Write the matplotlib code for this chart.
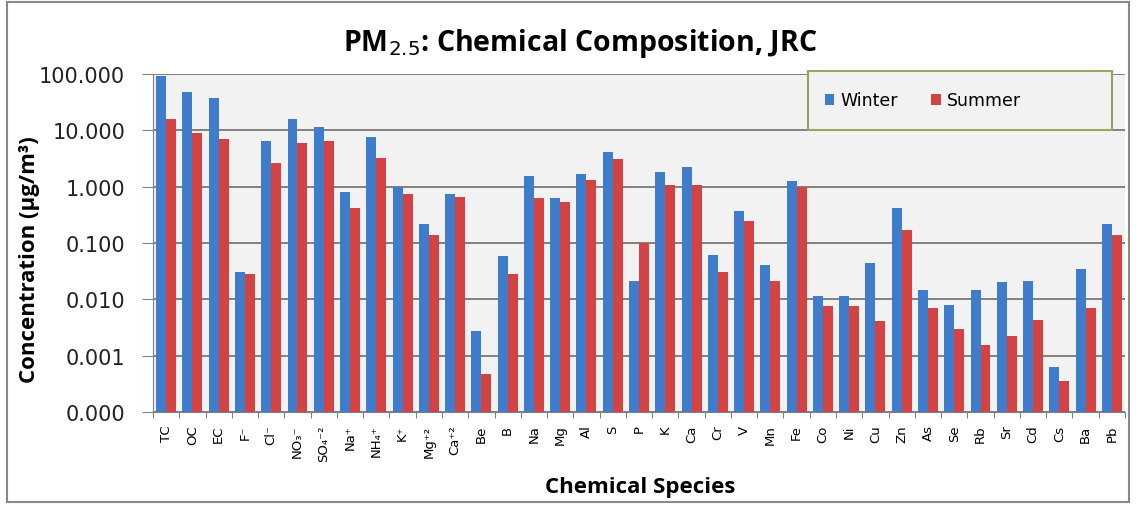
import matplotlib
matplotlib.use("Agg")
import matplotlib.pyplot as plt
import numpy as np
from matplotlib.patches import Rectangle
from matplotlib.ticker import FixedLocator, FuncFormatter, NullFormatter

species = ["TC", "OC", "EC", "F⁻", "Cl⁻", "NO₃⁻", "SO₄⁻²", "Na⁺", "NH₄⁺", "K⁺",
           "Mg⁺²", "Ca⁺²", "Be", "B", "Na", "Mg", "Al", "S", "P", "K", "Ca",
           "Cr", "V", "Mn", "Fe", "Co", "Ni", "Cu", "Zn", "As", "Se", "Rb",
           "Sr", "Cd", "Cs", "Ba", "Pb"]
winter = [92, 48, 38, 0.031, 6.5, 16, 11.6, 0.81, 7.5, 1.0,
          0.22, 0.74, 0.0027, 0.058, 1.56, 0.62, 1.67, 4.1, 0.021, 1.8, 2.2,
          0.062, 0.37, 0.041, 1.25, 0.0115, 0.0115, 0.044, 0.42, 0.0146, 0.0079, 0.0146,
          0.0204, 0.0215, 0.00063, 0.035, 0.22]
summer = [16, 9.0, 7.0, 0.028, 2.6, 5.9, 6.5, 0.42, 3.26, 0.73,
          0.14, 0.65, 0.00047, 0.028, 0.64, 0.54, 1.31, 3.1, 0.10, 1.08, 1.08,
          0.030, 0.25, 0.021, 1.0, 0.0075, 0.0075, 0.0041, 0.17, 0.0070, 0.0030, 0.00155,
          0.0022, 0.0043, 0.00036, 0.0070, 0.14]
yticks = [0.0001, 0.001, 0.01, 0.1, 1, 10, 100]
series_names = ["Winter", "Summer"]

W, H = 1136, 506
fig = plt.figure(figsize=(W / 100, H / 100), dpi=100)
fig.patch.set_facecolor("white")
fig.patches.append(Rectangle((7 / W, 3 / H), 1 - 14 / W, 1 - 6 / H, transform=fig.transFigure,
                             fill=False, edgecolor="#8a8a8a", linewidth=1.5))

ax_l, ax_r, ax_t, ax_b = 153, 1125, 75, 413
ax = fig.add_axes([ax_l / W, 1 - ax_b / H, (ax_r - ax_l) / W, (ax_b - ax_t) / H])
ax.set_facecolor("#f2f2f2")
ax.set_yscale("log")
ax.set_ylim(1e-4, 100)

x = np.arange(len(species))
bw = 0.38
blue = "#3f7dcc"
red = "#d34343"
ax.bar(x - bw / 2, winter, width=bw, color=blue, label=series_names[0], zorder=3)
ax.bar(x + bw / 2, summer, width=bw, color=red, label=series_names[1], zorder=3)
ax.set_xlim(-0.5, len(species) - 0.5)

ax.yaxis.set_major_locator(FixedLocator(yticks))
ax.yaxis.set_minor_locator(FixedLocator([]))
ax.yaxis.set_major_formatter(FuncFormatter(lambda v, p: f"{v:.3f}"))
ax.yaxis.grid(True, color="#808080", linewidth=1.4, zorder=0)
ax.set_axisbelow(True)

ax.xaxis.set_major_locator(FixedLocator(np.arange(-0.5, len(species), 1.0)))
ax.xaxis.set_major_formatter(NullFormatter())
ax.xaxis.set_minor_locator(FixedLocator(x))
ax.set_xticklabels(species, minor=True, rotation=90, fontsize=9.5, family="DejaVu Sans")
ax.tick_params(axis="x", which="major", length=4, direction="out", color="#808080")
ax.tick_params(axis="x", which="minor", length=0, pad=9)
ax.tick_params(axis="y", which="major", length=8, color="#808080", labelsize=15, pad=12)
for lab in ax.get_yticklabels():
    lab.set_family("DejaVu Sans")
    lab.set_color("#222222")

for side in ["top", "right"]:
    ax.spines[side].set_visible(False)
ax.spines["left"].set_color("#808080")
ax.spines["bottom"].set_color("#808080")

fig.text(30 / W, 1 - 260 / H, "Concentration (µg/m³)", rotation=90, ha="center", va="center",
         fontsize=16, fontweight="bold", family="Open Sans")
fig.text(640 / W, 1 - 488 / H, "Chemical Species", ha="center", va="center",
         fontsize=16, fontweight="bold", family="Open Sans")
fig.text(580 / W, 1 - 44 / H, "PM$_{2.5}$: Chemical Composition, JRC", ha="center", va="center",
         fontsize=20.5, fontweight="bold", family="Open Sans")

# legend box
lx0, lx1, ly0, ly1 = 808, 1112, 72, 131
sx = ax_r - ax_l
sy = ax_b - ax_t
box = Rectangle(((lx0 - ax_l) / sx, (ax_b - ly1) / sy), (lx1 - lx0) / sx, (ly1 - ly0) / sy,
                transform=ax.transAxes, facecolor="#f2f2f2", edgecolor="#a0a060",
                linewidth=1.5, zorder=4, clip_on=False)
ax.add_patch(box)
leg = ax.legend(loc="center left",
                bbox_to_anchor=((818 - ax_l) / sx, (ax_b - (ly0 + ly1) / 2) / sy),
                ncol=2, fontsize=12.5, frameon=False, handlelength=0.55, handleheight=0.55,
                columnspacing=1.9, handletextpad=0.35, borderaxespad=0)
leg.set_zorder(5)

fig.savefig("out.png", dpi=100, facecolor="white")
